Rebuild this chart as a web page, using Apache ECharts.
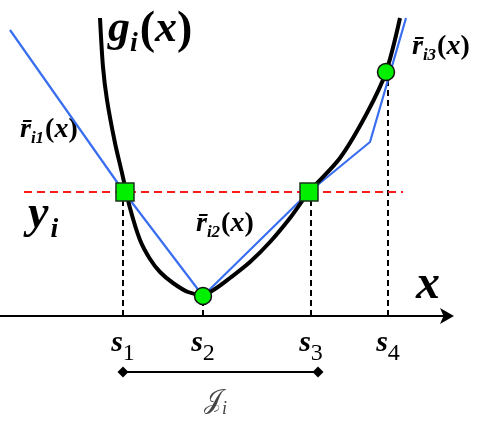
<!DOCTYPE html>
<html lang="en">

<head>
    <meta charset="UTF-8">
    <title>g_i(x)</title>
    <script src="https://cdn.jsdelivr.net/npm/echarts@6/dist/echarts.min.js"></script>
    <style>
        html, body { margin: 0; padding: 0; background: #fff; }
        #main { width: 479px; height: 427px; }
    </style>
</head>

<body>
    <div id="main"></div>
    <script>
        // break points on the x axis (s1..s4)
        var sVals = [123, 203, 311, 388];
        var sNames = ['1', '2', '3', '4'];
        var yi = 124;

        // curve g_i(x) (y up from the axis)
        var gCurve = [
            [100, 298], [103, 249], [107, 216], [115, 173], [122, 143],
            [130, 108], [140, 76], [150, 57], [160, 44], [173, 33], [188, 24], [203, 21],
            [215, 27], [230, 38], [250, 54], [270, 74], [290, 98], [309, 124],
            [340, 158], [367, 203], [386, 244], [400, 298]
        ];

        // piecewise linear r_i
        var rLine = [[10, 286], [124, 124], [203, 20], [309, 124], [370, 174], [406, 298]];

        // markers
        var squarePts = [[125, 124], [309, 124]];
        var circlePts = [[203, 20], [386, 244]];
        var dashTops = [124, 20, 124, 244];
        var yiLine = [[24, yi], [403, yi]];
        var bracket = [[123, -56], [318, -56]];

        var serif = 'Liberation Serif';

        var vSeries = [];
        for (var i = 0; i < sVals.length; i++) {
            vSeries.push({
                type: 'line',
                data: [[sVals[i], 0], [sVals[i], dashTops[i]]],
                symbol: 'none',
                lineStyle: { color: '#000', width: 2, type: [6, 4] },
                z: 2
            });
        }

        var myChart = echarts.init(document.getElementById('main'));

        function rStyle(n) {
            return {
                text: '{m|r\u0304}{s|i' + n + '}{p|(}{x|x}{p|)}',
                rich: {
                    m: { fontFamily: serif, fontSize: 28, fontWeight: 'bold', fontStyle: 'italic', lineHeight: 28, verticalAlign: 'top' },
                    s: { fontFamily: serif, fontSize: 17, fontWeight: 'bold', fontStyle: 'italic', lineHeight: 17, verticalAlign: 'top', padding: [14, 1, 0, 0] },
                    p: { fontFamily: serif, fontSize: 28, fontWeight: 'bold', lineHeight: 28, verticalAlign: 'top' },
                    x: { fontFamily: serif, fontSize: 28, fontWeight: 'bold', fontStyle: 'italic', lineHeight: 28, verticalAlign: 'top' }
                }
            };
        }

        option = {
            animation: false,
            grid: { left: 0, right: 29, top: 0, bottom: 111, containLabel: false, outerBoundsMode: 'none' },
            xAxis: {
                type: 'value',
                min: 0,
                max: 450,
                splitLine: { show: false },
                axisTick: { show: false },
                axisLine: {
                    symbol: ['none', 'arrow'],
                    symbolSize: [12, 14],
                    symbolOffset: [0, 4],
                    lineStyle: { color: '#000', width: 2 }
                },
                axisLabel: {
                    customValues: sVals,
                    margin: 12,
                    formatter: function (v) {
                        return '{m|s}{s|' + sNames[sVals.indexOf(v)] + '}';
                    },
                    rich: {
                        m: { fontFamily: serif, fontSize: 30, fontWeight: 'bold', fontStyle: 'italic', color: '#000', lineHeight: 30, verticalAlign: 'top' },
                        s: { fontFamily: serif, fontSize: 24, color: '#000', lineHeight: 24, verticalAlign: 'top', padding: [14, 0, 0, 0] }
                    }
                }
            },
            yAxis: {
                type: 'value',
                min: 0,
                max: 316,
                show: false
            },
            graphic: [
                {
                    type: 'text', left: 108, top: 8,
                    style: {
                        text: '{m|g}{s|i}{p|(}{m|x}{p|)}',
                        rich: {
                            m: { fontFamily: serif, fontSize: 44, fontWeight: 'bold', fontStyle: 'italic', lineHeight: 44, verticalAlign: 'top' },
                            s: { fontFamily: serif, fontSize: 28, fontWeight: 'bold', fontStyle: 'italic', lineHeight: 28, verticalAlign: 'top', padding: [22, 2, 0, 0] },
                            p: { fontFamily: serif, fontSize: 46, fontWeight: 'bold', lineHeight: 44, verticalAlign: 'top' }
                        }
                    }
                },
                {
                    type: 'text', left: 28, top: 192,
                    style: {
                        text: '{m|y}{s|i}',
                        rich: {
                            m: { fontFamily: serif, fontSize: 46, fontWeight: 'bold', fontStyle: 'italic', lineHeight: 46, verticalAlign: 'top' },
                            s: { fontFamily: serif, fontSize: 28, fontWeight: 'bold', fontStyle: 'italic', lineHeight: 28, verticalAlign: 'top', padding: [24, 0, 0, 2] }
                        }
                    }
                },
                {
                    type: 'text', left: 416, top: 262,
                    style: { text: 'x', fontFamily: serif, fontSize: 48, fontWeight: 'bold', fontStyle: 'italic' }
                },
                { type: 'text', left: 20, top: 116, style: rStyle('1') },
                { type: 'text', left: 196, top: 210, style: rStyle('2') },
                { type: 'text', left: 412, top: 33, style: rStyle('3') },
                {
                    type: 'text', left: 204, top: 388,
                    style: {
                        text: '{m|\uD835\uDCA5}{s|i}',
                        rich: {
                            m: { fontFamily: 'DejaVu Serif', fontSize: 26, fill: '#444', lineHeight: 26, verticalAlign: 'top' },
                            s: { fontFamily: serif, fontSize: 18, fontStyle: 'italic', fill: '#444', lineHeight: 18, verticalAlign: 'top', padding: [12, 0, 0, 0] }
                        }
                    }
                }
            ],
            series: vSeries.concat([
                {
                    type: 'line',
                    data: yiLine,
                    symbol: 'none',
                    lineStyle: { color: '#ff1a1a', width: 2, type: [8, 5] },
                    z: 2
                },
                {
                    type: 'line',
                    data: rLine,
                    symbol: 'none',
                    lineStyle: { color: '#3a6ef0', width: 2.2 },
                    z: 3
                },
                {
                    type: 'line',
                    data: gCurve,
                    smooth: 0.3,
                    symbol: 'none',
                    lineStyle: { color: '#000', width: 4 },
                    z: 4
                },
                {
                    type: 'line',
                    data: bracket,
                    symbol: 'diamond',
                    symbolSize: 11,
                    showAllSymbol: true,
                    itemStyle: { color: '#000' },
                    lineStyle: { color: '#000', width: 2 },
                    clip: false,
                    z: 3
                },
                {
                    type: 'scatter',
                    data: squarePts,
                    symbol: 'rect',
                    symbolSize: 18,
                    itemStyle: { color: '#00f000', borderColor: '#1a331a', borderWidth: 1.5, opacity: 1 },
                    z: 6
                },
                {
                    type: 'scatter',
                    data: circlePts,
                    symbol: 'circle',
                    symbolSize: 17,
                    itemStyle: { color: '#00f000', borderColor: '#111', borderWidth: 1.5, opacity: 1 },
                    z: 6
                }
            ])
        };

        myChart.setOption(option);
    </script>
</body>

</html>
